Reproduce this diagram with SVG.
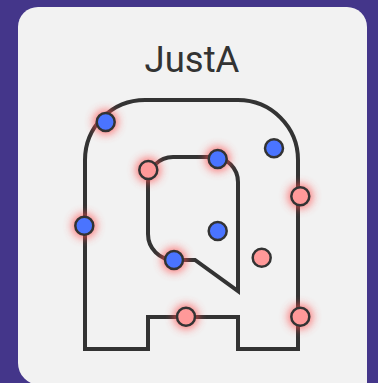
<svg xmlns="http://www.w3.org/2000/svg" width="378" height="383" viewBox="0 0 378 383">
<defs>
<filter id="glow" x="-100%" y="-100%" width="300%" height="300%"><feGaussianBlur stdDeviation="5"/></filter>
<style>
.track{fill:none;stroke:#333;stroke-width:4;stroke-linejoin:miter}
.b{fill:#4a74ff;stroke:#333;stroke-width:2.5}
.p{fill:#ff9999;stroke:#333;stroke-width:2.5}
.g{fill:#ff4d4d;opacity:0.8;filter:url(#glow)}
.t{font-family:Roboto,"Liberation Sans",sans-serif;font-size:36.5px;fill:#333;text-anchor:middle}
</style>
</defs>
<rect width="378" height="383" fill="#44368a"/>
<path d="M38 7 H347 A20 20 0 0 1 367 27 V390 H18 V27 A20 20 0 0 1 38 7 Z" fill="#f2f2f2"/>
<path d="M18 355 V363 A22 22 0 0 0 40 385 H18 Z" fill="#44368a"/>
<text class="t" x="192" y="72">JustA</text>
<g id="connectors">
<path class="track" d="M85 349 V160 A60 60 0 0 1 145 100 H238 A60 60 0 0 1 298 160 V349 H238 V317 H148 V349 Z"/>
<path class="track" d="M148 182 A25 25 0 0 1 173 157 H213 A25 25 0 0 1 238 182 V291 L195 260 H174 A26 26 0 0 1 148 234 Z"/>
</g>
<g id="n1"><circle class="g" cx="105.7" cy="122" r="12"/><circle class="b" cx="105.7" cy="122" r="9"/></g>
<g id="n2"><circle class="g" cx="148.3" cy="170" r="12"/><circle class="p" cx="148.3" cy="170" r="9"/></g>
<g id="n3"><circle class="g" cx="217.7" cy="159" r="12"/><circle class="b" cx="217.7" cy="159" r="9"/></g>
<g id="n4"><circle class="b" cx="274" cy="148.3" r="9"/></g>
<g id="n5"><circle class="g" cx="300.3" cy="196.3" r="12"/><circle class="p" cx="300.3" cy="196.3" r="9"/></g>
<g id="n6"><circle class="g" cx="84.3" cy="225.7" r="12"/><circle class="b" cx="84.3" cy="225.7" r="9"/></g>
<g id="n7"><circle class="b" cx="217.7" cy="231" r="9"/></g>
<g id="n8"><circle class="g" cx="174" cy="260" r="12"/><circle class="b" cx="174" cy="260" r="9"/></g>
<g id="n9"><circle class="p" cx="261.7" cy="257.7" r="9"/></g>
<g id="n10"><circle class="g" cx="186" cy="316.7" r="12"/><circle class="p" cx="186" cy="316.7" r="9"/></g>
<g id="n11"><circle class="g" cx="300.3" cy="316.7" r="12"/><circle class="p" cx="300.3" cy="316.7" r="9"/></g>
</svg>
